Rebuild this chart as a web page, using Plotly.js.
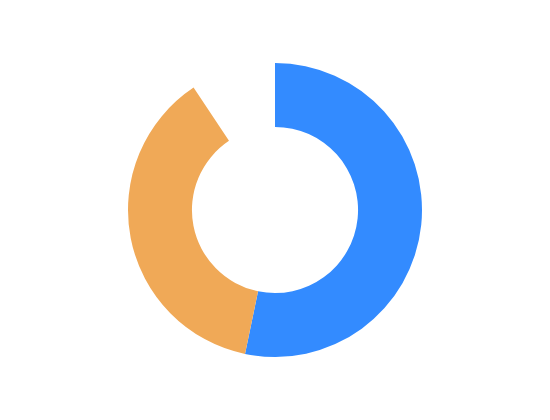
<!DOCTYPE html>
<html>
<head>
<meta charset="utf-8">
<script src="https://cdn.plot.ly/plotly-3.0.1.min.js"></script>
<style>html,body{margin:0;padding:0;background:#fff;}</style>
</head>
<body>
<div id="chart" style="width:550px;height:420px;"></div>
<script>
var labels = ['A', 'B', 'Remaining'];
var values = [57, 40, 10];
var colors = ['#338BFF', '#F0A957', 'rgba(0,0,0,0)'];

var data = [{
  type: 'pie',
  labels: labels,
  values: values,
  hole: 0.565,
  sort: false,
  direction: 'clockwise',
  rotation: 0,
  textinfo: 'none',
  hoverinfo: 'label+value',
  marker: {colors: colors, line: {width: 0}}
}];

var layout = {
  width: 550,
  height: 420,
  showlegend: false,
  margin: {l: 63, r: 63, t: 63, b: 63},
  paper_bgcolor: '#fff'
};

Plotly.newPlot('chart', data, layout, {displayModeBar: false});
</script>
</body>
</html>
